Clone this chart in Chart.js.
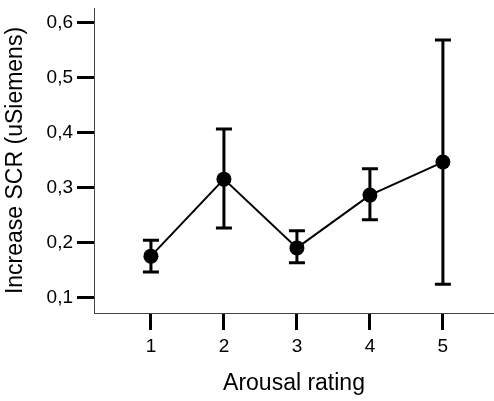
<!DOCTYPE html>
<html>
<head>
<meta charset="utf-8">
<script src="https://cdn.jsdelivr.net/npm/chart.js@4"></script>
<style>
  html, body { margin: 0; padding: 0; background: #fff; }
  #wrap { width: 494px; height: 401px; position: relative; }
</style>
</head>
<body>
<div id="wrap"><canvas id="chart"></canvas></div>
<script>
'use strict';

// ─── Data ────────────────────────────────────────────────────────────────────
const ratings   = [1, 2, 3, 4, 5];
const meanSCR   = [0.176, 0.316, 0.191, 0.287, 0.347];
const errUpper  = [0.205, 0.407, 0.222, 0.335, 0.569];
const errLower  = [0.147, 0.227, 0.164, 0.242, 0.125];
const yTicks    = [0.1, 0.2, 0.3, 0.4, 0.5, 0.6];

const FONT = "'Liberation Sans', Arial, Helvetica, sans-serif";

// ─── Error bar plugin — draws whiskers through the chart's own scales ────────
const errorBars = {
  id: 'errorBars',
  beforeDatasetsDraw(chart) {
    const { ctx, scales: { x, y } } = chart;
    const cap = 8;
    ctx.save();
    ctx.strokeStyle = '#000';
    ctx.lineWidth = 3;
    ctx.lineCap = 'butt';
    ratings.forEach((r, i) => {
      const px  = x.getPixelForValue(r);
      const top = y.getPixelForValue(errUpper[i]);
      const bot = y.getPixelForValue(errLower[i]);
      ctx.beginPath();
      ctx.moveTo(px, top);
      ctx.lineTo(px, bot);
      ctx.moveTo(px - cap, top);
      ctx.lineTo(px + cap, top);
      ctx.moveTo(px - cap, bot);
      ctx.lineTo(px + cap, bot);
      ctx.stroke();
    });
    ctx.restore();
  },
};

new Chart(document.getElementById('chart'), {
  type: 'line',
  data: {
    datasets: [{
      data:            ratings.map((r, i) => ({ x: r, y: meanSCR[i] })),
      borderColor:     '#000',
      borderWidth:     2,
      backgroundColor: '#000',
      pointRadius:     7.5,
      pointBorderWidth: 0,
      tension:         0,
      clip:            false,
    }],
  },
  options: {
    responsive:          true,
    maintainAspectRatio: false,
    animation:           false,
    layout: { autoPadding: false, padding: { top: 8, right: 0, left: 0, bottom: 0 } },
    plugins: {
      legend:  { display: false },
      tooltip: { enabled: false },
    },
    scales: {
      x: {
        type: 'linear',
        min:  0.22,
        max:  5.7,
        afterBuildTicks: (scale) => { scale.ticks = ratings.map(v => ({ value: v })); },
        afterFit: (scale) => { scale.height = 88; scale.paddingLeft = 0; scale.paddingRight = 0; },
        grid:   { drawOnChartArea: false, tickLength: 17, tickWidth: 3, tickColor: '#000' },
        border: { color: '#444', width: 1 },
        ticks:  { color: '#000', padding: 5, font: { family: FONT, size: 19 }, maxRotation: 0 },
        title:  { display: true, text: 'Arousal rating', color: '#000', font: { family: FONT, size: 23 } },
      },
      y: {
        min: 0.0727,
        max: 0.627,
        afterBuildTicks: (scale) => { scale.ticks = yTicks.map(v => ({ value: v })); },
        afterFit: (scale) => { scale.width = 94; scale.paddingTop = 0; scale.paddingBottom = 0; },
        grid:   { drawOnChartArea: false, tickLength: 17, tickWidth: 3, tickColor: '#000' },
        border: { color: '#444', width: 1 },
        ticks:  {
          color: '#000',
          padding: 4,
          font: { family: FONT, size: 19 },
          callback: (val) => val.toFixed(1).replace('.', ','),
        },
        title:  { display: true, text: 'Increase SCR (uSiemens)', color: '#000', padding: { top: 2, bottom: 4 }, font: { family: FONT, size: 23 } },
      },
    },
  },
  plugins: [errorBars],
});
</script>
</body>
</html>
